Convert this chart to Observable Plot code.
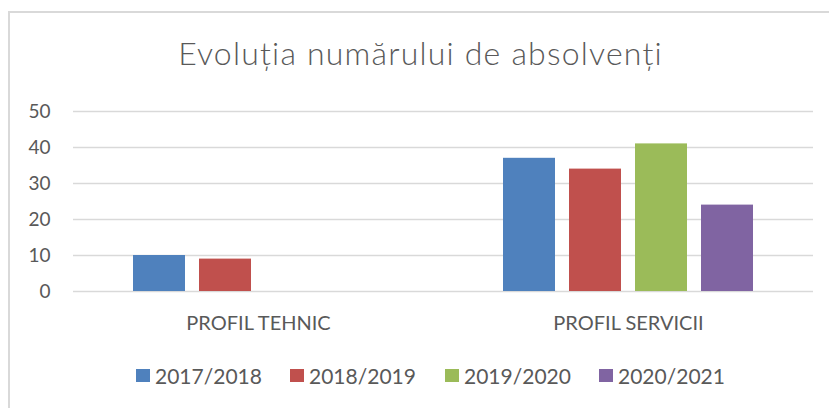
<!DOCTYPE html>
<html>
<head>
<meta charset="utf-8">
<script src="https://cdn.jsdelivr.net/npm/d3@7"></script>
<script src="https://cdn.jsdelivr.net/npm/@observablehq/plot@0.6"></script>
<style>
  html, body { margin: 0; padding: 0; background: #fff; }
  #wrap { position: relative; width: 829px; height: 408px; overflow: hidden; font-family: Lato, sans-serif; color: #595959; }
  #frame { position: absolute; left: 8px; top: 11px; width: 830px; height: 410px; border-top: 2px solid #d9d9d9; border-left: 2px solid #d9d9d9; box-sizing: border-box; }
  #title { position: absolute; left: 6px; width: 829px; top: 33px; text-align: center; font-size: 32px; letter-spacing: 1.2px; font-weight: 300; line-height: 40px; white-space: nowrap; }
  #chart { position: absolute; left: 0; top: 0; }
  #legend { position: absolute; left: 0; top: 362px; width: 829px; height: 28px; }
  .item { position: absolute; top: 0; height: 28px; font-size: 21px; line-height: 28px; white-space: nowrap; }
  .sw { position: absolute; left: 0; top: 7px; width: 14px; height: 13px; }
  .lab { position: absolute; left: 19px; top: 0; }
</style>
</head>
<body>
<div id="wrap">
  <div id="frame"></div>
  <div id="title">Evoluția numărului de absolvenți</div>
  <div id="chart"></div>
  <div id="legend"></div>
</div>
<script>
const titleText = "Evoluția numărului de absolvenți";
const categories = ["PROFIL TEHNIC", "PROFIL SERVICII"];
const series = ["2017/2018", "2018/2019", "2019/2020", "2020/2021"];
const tehnicValues = [10, 9, null, null];
const serviciiValues = [37, 34, 41, 24];
const colors = ["#4f81bd", "#c0504d", "#9bbb59", "#8064a2"];
const yTicks = [0, 10, 20, 30, 40, 50];

const valuesByCategory = [tehnicValues, serviciiValues];
const data = [];
categories.forEach((c, i) => {
  series.forEach((s, j) => {
    const v = valuesByCategory[i][j];
    if (v != null) data.push({cat: c, year: s, value: v});
  });
});

const chart = Plot.plot({
  width: 829,
  height: 350,
  marginTop: 111,
  marginBottom: 59,
  marginLeft: 73,
  marginRight: 16,
  style: {fontFamily: "Lato, sans-serif", color: "#595959", background: "transparent"},
  fx: {domain: categories, padding: 0, label: null},
  x: {domain: series, paddingInner: 0.209, paddingOuter: 0.866, axis: null},
  y: {domain: [0, 50], axis: null},
  color: {domain: series, range: colors},
  marks: [
    Plot.ruleY(yTicks, {stroke: "#d9d9d9", strokeWidth: 1.3}),
    Plot.barY(data, {fx: "cat", x: "year", y: "value", fill: "year"}),
    Plot.axisY(yTicks, {tickSize: 0, tickPadding: 23, fontSize: 19, fill: "#595959", label: null}),
    Plot.axisFx({anchor: "bottom", tickSize: 0, tickPadding: 24, fontSize: 20, fill: "#595959", label: null})
  ]
});
document.getElementById("chart").appendChild(chart);
chart.querySelectorAll("text").forEach(t => t.setAttribute("font-weight", "normal"));
chart.querySelectorAll("g").forEach(g => { if (g.getAttribute("font-weight")) g.setAttribute("font-weight", "normal"); });

const legend = document.getElementById("legend");
const lefts = [136, 290, 445, 599];
series.forEach((s, i) => {
  const item = document.createElement("div");
  item.className = "item";
  item.style.left = lefts[i] + "px";
  const sw = document.createElement("div");
  sw.className = "sw";
  sw.style.background = colors[i];
  const lab = document.createElement("div");
  lab.className = "lab";
  lab.textContent = s;
  item.appendChild(sw);
  item.appendChild(lab);
  legend.appendChild(item);
});
</script>
</body>
</html>
